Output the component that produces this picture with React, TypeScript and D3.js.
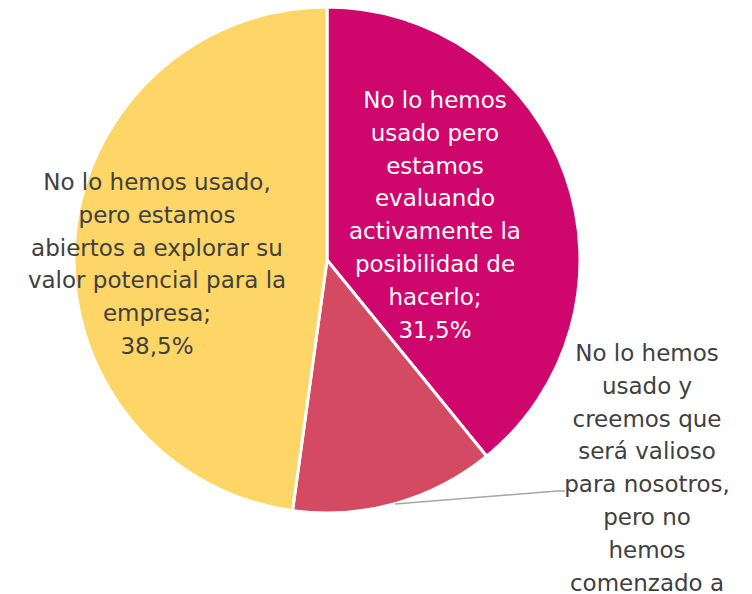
import { useEffect, useRef } from "react";
import * as d3 from "d3";

const W = 752;
const H = 594;

// slices, clockwise from 12 o'clock
const categories = ["evaluando", "valioso", "abiertos"];
const values = [31.5, 10.5, 38.5];
const colors = ["#CF076D", "#D44A62", "#FDD667"];

// label lines as they wrap in the picture
const labelLines = [
  ["No lo hemos", "usado pero", "estamos", "evaluando", "activamente la", "posibilidad de", "hacerlo;", "31,5%"],
  ["No lo hemos", "usado y", "creemos que", "será valioso", "para nosotros,", "pero no", "hemos", "comenzado a"],
  ["No lo hemos usado,", "pero estamos", "abiertos a explorar su", "valor potencial para la", "empresa;", "38,5%"],
];
const labelColors = ["#FFFFFF", "#404040", "#404040"];

export default function App() {
  const svgRef = useRef<SVGSVGElement>(null);

  useEffect(() => {
    if (!svgRef.current) return;
    const svg = d3.select(svgRef.current);
    svg.selectAll("*").remove();

    const cx = 327;
    const cy = 260;
    const r = 253;

    const pie = d3.pie<number>().sort(null).value((d) => d);
    const arcs = pie(values);
    const arc = d3.arc<d3.PieArcDatum<number>>().innerRadius(0).outerRadius(r);

    const g = svg.append("g").attr("transform", `translate(${cx},${cy})`);

    g.selectAll("path.slice")
      .data(arcs)
      .join("path")
      .attr("class", "slice")
      .attr("d", arc)
      .attr("fill", (_, i) => colors[i])
      .attr("stroke", "#fff")
      .attr("stroke-width", 3)
      .attr("stroke-linejoin", "round");

    // label anchors (centre of first line) relative to pie centre
    const anchors: [number, number][] = [
      [108, -160],
      [320, 93],
      [-170, -78],
    ];
    const lineH = 32.8;

    // leader line for the outside label
    const leader = d3.line();
    g.append("path")
      .attr("d", leader([[68, 244], [230, 231], [238, 231]]))
      .attr("fill", "none")
      .attr("stroke", "#A6A6A6")
      .attr("stroke-width", 1.5);

    labelLines.forEach((lines, i) => {
      const [ax, ay] = anchors[i];
      const t = g.append("text")
        .attr("text-anchor", "middle")
        .attr("font-family", "'DejaVu Sans', sans-serif")
        .attr("font-size", 23)
        .attr("fill", labelColors[i]);
      lines.forEach((line, j) => {
        t.append("tspan")
          .attr("x", ax)
          .attr("y", ay + j * lineH)
          .attr("dy", "0.35em")
          .text(line);
      });
    });
    void categories;
  }, []);

  return (
    <svg
      ref={svgRef}
      width={W}
      height={H}
      style={{ position: "absolute", left: 0, top: 0, background: "#fff" }}
    />
  );
}
